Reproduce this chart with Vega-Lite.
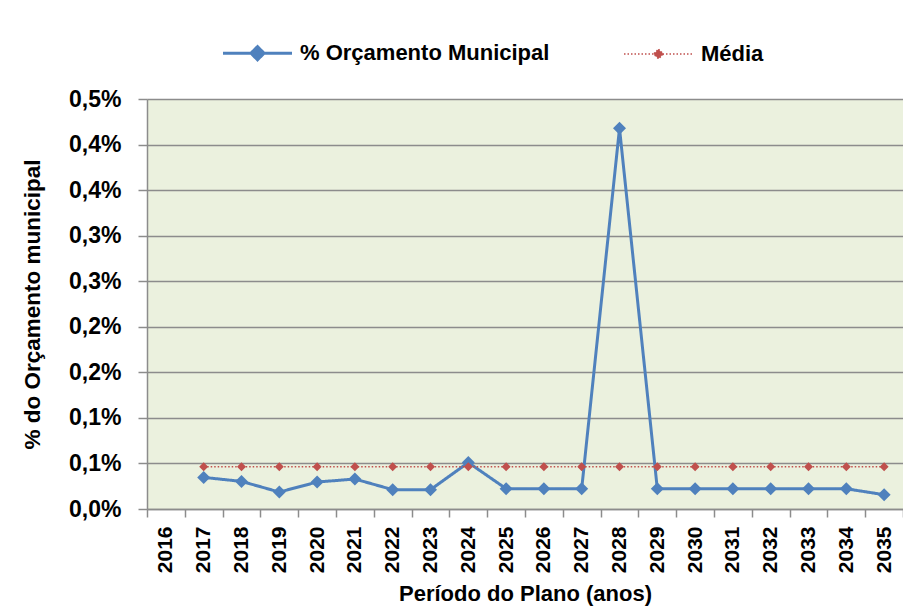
{
  "$schema": "https://vega.github.io/schema/vega-lite/v6.json",
  "width": 756,
  "height": 410,
  "autosize": {"type": "none"},
  "padding": {"left": 147, "top": 99, "right": 0, "bottom": 100},
  "background": "white",
  "config": {
    "font": "Liberation Sans",
    "view": {"fill": "#EBF1DE", "stroke": null}
  },
  "data": {
    "values": [
      {"ano": "2017", "serie": "% Orçamento Municipal", "valor": 0.0347},
      {"ano": "2018", "serie": "% Orçamento Municipal", "valor": 0.0303},
      {"ano": "2019", "serie": "% Orçamento Municipal", "valor": 0.0186},
      {"ano": "2020", "serie": "% Orçamento Municipal", "valor": 0.0296},
      {"ano": "2021", "serie": "% Orçamento Municipal", "valor": 0.0329},
      {"ano": "2022", "serie": "% Orçamento Municipal", "valor": 0.0212},
      {"ano": "2023", "serie": "% Orçamento Municipal", "valor": 0.0212},
      {"ano": "2024", "serie": "% Orçamento Municipal", "valor": 0.051},
      {"ano": "2025", "serie": "% Orçamento Municipal", "valor": 0.0223},
      {"ano": "2026", "serie": "% Orçamento Municipal", "valor": 0.0223},
      {"ano": "2027", "serie": "% Orçamento Municipal", "valor": 0.0223},
      {"ano": "2028", "serie": "% Orçamento Municipal", "valor": 0.4178},
      {"ano": "2029", "serie": "% Orçamento Municipal", "valor": 0.0223},
      {"ano": "2030", "serie": "% Orçamento Municipal", "valor": 0.0223},
      {"ano": "2031", "serie": "% Orçamento Municipal", "valor": 0.0222},
      {"ano": "2032", "serie": "% Orçamento Municipal", "valor": 0.0222},
      {"ano": "2033", "serie": "% Orçamento Municipal", "valor": 0.0222},
      {"ano": "2034", "serie": "% Orçamento Municipal", "valor": 0.0222},
      {"ano": "2035", "serie": "% Orçamento Municipal", "valor": 0.0157},
      {"ano": "2017", "serie": "Média", "valor": 0.0464},
      {"ano": "2018", "serie": "Média", "valor": 0.0464},
      {"ano": "2019", "serie": "Média", "valor": 0.0464},
      {"ano": "2020", "serie": "Média", "valor": 0.0464},
      {"ano": "2021", "serie": "Média", "valor": 0.0464},
      {"ano": "2022", "serie": "Média", "valor": 0.0464},
      {"ano": "2023", "serie": "Média", "valor": 0.0464},
      {"ano": "2024", "serie": "Média", "valor": 0.0464},
      {"ano": "2025", "serie": "Média", "valor": 0.0464},
      {"ano": "2026", "serie": "Média", "valor": 0.0464},
      {"ano": "2027", "serie": "Média", "valor": 0.0464},
      {"ano": "2028", "serie": "Média", "valor": 0.0464},
      {"ano": "2029", "serie": "Média", "valor": 0.0464},
      {"ano": "2030", "serie": "Média", "valor": 0.0464},
      {"ano": "2031", "serie": "Média", "valor": 0.0464},
      {"ano": "2032", "serie": "Média", "valor": 0.0464},
      {"ano": "2033", "serie": "Média", "valor": 0.0464},
      {"ano": "2034", "serie": "Média", "valor": 0.0464},
      {"ano": "2035", "serie": "Média", "valor": 0.0464}
    ]
  },
  "encoding": {
    "x": {
      "field": "ano",
      "type": "ordinal",
      "scale": {
        "type": "band",
        "domain": ["2016","2017","2018","2019","2020","2021","2022","2023","2024","2025","2026","2027","2028","2029","2030","2031","2032","2033","2034","2035"],
        "paddingInner": 0,
        "paddingOuter": 0
      },
      "axis": {
        "title": "Período do Plano (anos)",
        "tickBand": "extent",
        "labelAngle": 270,
        "labelAlign": "right",
        "labelBaseline": "middle",
        "labelFontSize": 21,
        "labelFontWeight": "bold",
        "labelColor": "black",
        "labelPadding": 9,
        "tickSize": 8,
        "tickColor": "#8c8c8c",
        "tickWidth": 1.5,
        "domainColor": "#8c8c8c",
        "domainWidth": 1.5,
        "grid": false,
        "titleFontSize": 22,
        "titleFontWeight": "bold",
        "titleColor": "black",
        "titlePadding": 11
      }
    },
    "y": {
      "field": "valor",
      "type": "quantitative",
      "scale": {"domain": [0, 0.45], "nice": false, "zero": true},
      "axis": {
        "title": "% do Orçamento municipal",
        "values": [0, 0.05, 0.1, 0.15, 0.2, 0.25, 0.3, 0.35, 0.4, 0.45],
        "labelExpr": "replace(format(round(datum.value*10+0.0001)/10, '.1f'), '.', ',') + '%'",
        "labelFontSize": 23,
        "labelFontWeight": "bold",
        "labelColor": "black",
        "labelPadding": 17,
        "tickSize": 9,
        "tickColor": "#8c8c8c",
        "tickWidth": 1.5,
        "domainColor": "#8c8c8c",
        "domainWidth": 1.5,
        "grid": true,
        "gridColor": "#8c8c8c",
        "gridWidth": 1.5,
        "titleFontSize": 22.5,
        "titleFontWeight": "bold",
        "titleColor": "black",
        "titlePadding": 24
      }
    },
    "color": {
      "field": "serie",
      "type": "nominal",
      "scale": {"domain": ["% Orçamento Municipal", "Média"], "range": ["#4F81BD", "#C0504D"]},
      "legend": {
        "title": null,
        "orient": "none",
        "legendX": 76,
        "legendY": -57,
        "direction": "horizontal",
        "labelFontSize": 22,
        "labelFontWeight": "bold",
        "labelColor": "black",
        "labelLimit": 500,
        "labelOffset": 8,
        "columnPadding": 71,
        "symbolSize": 4761,
        "symbolType": "M-1,0H1",
        "encode": {
          "symbols": {
            "update": {
              "x": {"value": 34.5},
              "shape": {"signal": "datum.value === 'Média' ? 'M-1,0H1M0,-0.14L0.14,0L0,0.14L-0.14,0Z' : 'M-1,0H1M0,-0.19L0.19,0L0,0.19L-0.19,0Z'"},
              "fill": {"signal": "datum.value === 'Média' ? '#C0504D' : '#4F81BD'"},
              "stroke": {"signal": "datum.value === 'Média' ? '#C0504D' : '#4F81BD'"},
              "strokeDash": {"signal": "datum.value === 'Média' ? [1.5, 2] : [1, 0]"},
              "strokeWidth": {"signal": "datum.value === 'Média' ? 1.5 : 3"},
              "opacity": {"value": 1},
              "fillOpacity": {"value": 1}
            }
          },
          "labels": {
            "update": {
              "x": {"value": 77}
            }
          }
        }
      }
    }
  },
  "layer": [
    {
      "mark": {"type": "line"},
      "encoding": {
        "strokeDash": {"condition": {"test": "datum.serie === 'Média'", "value": [1.5, 2]}, "value": [1, 0]},
        "strokeWidth": {"condition": {"test": "datum.serie === 'Média'", "value": 1.5}, "value": 3}
      }
    },
    {
      "mark": {"type": "point", "shape": "diamond", "filled": true, "opacity": 1},
      "encoding": {
        "size": {"condition": {"test": "datum.serie === 'Média'", "value": 81}, "value": 169}
      }
    }
  ]
}
